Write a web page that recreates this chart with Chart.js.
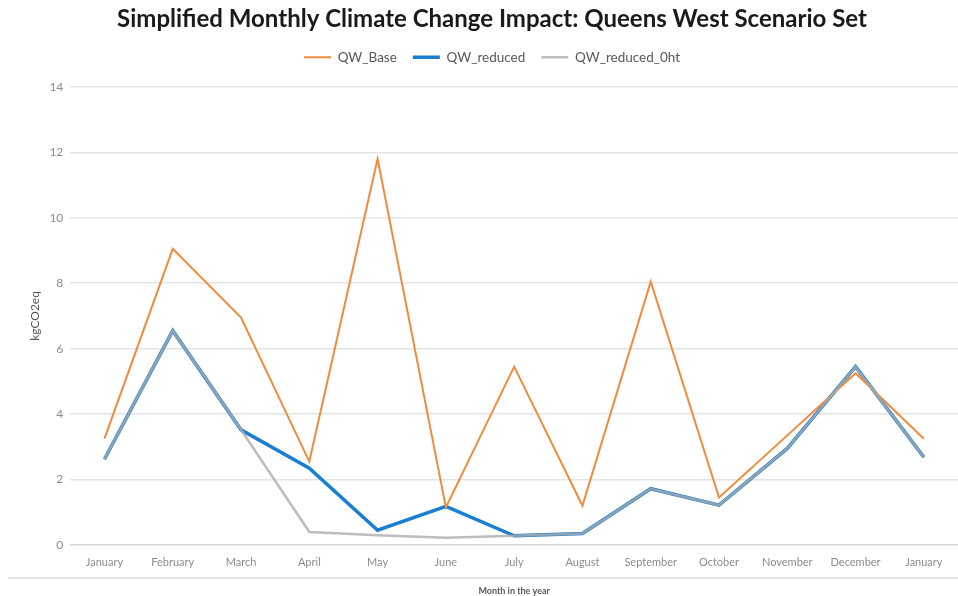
<!DOCTYPE html>
<html>
<head>
<meta charset="utf-8">
<script src="https://cdn.jsdelivr.net/npm/chart.js@4"></script>
<style>
  html, body { margin: 0; padding: 0; background: #fff; }
  #wrap { width: 958px; height: 596px; }
</style>
</head>
<body>
<div id="wrap"><canvas id="chart" width="958" height="596"></canvas></div>
<script>
const months = ["January", "February", "March", "April", "May", "June", "July",
  "August", "September", "October", "November", "December", "January"];

const qwBase = [3.25, 9.05, 6.95, 2.55, 11.8, 1.15, 5.45, 1.2, 8.05, 1.45, 3.35, 5.25, 3.25];
const qwReduced = [2.62, 6.55, 3.52, 2.35, 0.45, 1.18, 0.28, 0.35, 1.72, 1.22, 2.95, 5.45, 2.68];
const qwReduced0ht = [2.62, 6.55, 3.52, 0.4, 0.3, 0.22, 0.28, 0.35, 1.72, 1.22, 2.95, 5.45, 2.68];

const yMin = 0, yMax = 14, yStep = 2;

const FONT = "Lato, 'Open Sans', sans-serif";

// thin rule below the month labels
const bottomRule = {
  id: "bottomRule",
  afterDraw(chart) {
    const ctx = chart.ctx;
    const y = chart.chartArea.bottom + 33;
    ctx.save();
    ctx.strokeStyle = "#d9d9d9";
    ctx.lineWidth = 1.5;
    ctx.beginPath();
    ctx.moveTo(8, y);
    ctx.lineTo(chart.width, y);
    ctx.stroke();
    ctx.restore();
  }
};

// extra room between legend and plot
const legendGap = {
  id: "legendGap",
  beforeInit(chart) {
    const fit = chart.legend.fit;
    chart.legend.fit = function () {
      fit.bind(chart.legend)();
      this.height += 13;
    };
  }
};

new Chart(document.getElementById("chart").getContext("2d"), {
  type: "line",
  data: {
    labels: months,
    datasets: [
      {
        label: "QW_Base",
        data: qwBase,
        borderColor: "#f08a3c",
        backgroundColor: "#f08a3c",
        borderWidth: 2,
        order: 1
      },
      {
        label: "QW_reduced",
        data: qwReduced,
        borderColor: "#1a7fd0",
        backgroundColor: "#1a7fd0",
        borderWidth: 3.5,
        order: 2
      },
      {
        label: "QW_reduced_0ht",
        data: qwReduced0ht,
        borderColor: "rgba(172,172,172,0.8)",
        backgroundColor: "rgba(172,172,172,0.8)",
        borderWidth: 2.5,
        order: 0
      }
    ]
  },
  options: {
    responsive: false,
    animation: false,
    layout: { padding: { left: 26, right: 0, top: 4, bottom: 0 } },
    elements: {
      point: { radius: 0, hoverRadius: 0 },
      line: { tension: 0 }
    },
    plugins: {
      title: {
        display: true,
        text: "Simplified Monthly Climate Change Impact: Queens West Scenario Set",
        color: "#1a1a1a",
        font: { family: FONT, size: 24, weight: "bold", lineHeight: 1.1 },
        padding: { top: 2, bottom: 2 }
      },
      legend: {
        display: true,
        position: "top",
        labels: {
          sort: (a, b) => a.datasetIndex - b.datasetIndex,
          usePointStyle: true,
          pointStyle: "line",
          pointStyleWidth: 27,
          color: "#595959",
          padding: 16,
          font: { family: FONT, size: 13.5 }
        }
      },
      tooltip: { enabled: false }
    },
    scales: {
      x: {
        offset: true,
        grid: { display: false },
        border: { display: true, color: "#d9d9d9", width: 1.5 },
        ticks: {
          color: "#8c8c8c",
          padding: 3,
          maxRotation: 0,
          autoSkip: false,
          font: { family: FONT, size: 11 }
        },
        title: {
          display: true,
          text: "Month in the year",
          color: "#595959",
          font: { family: FONT, size: 9, weight: "bold" },
          padding: { top: 13, bottom: 0 }
        }
      },
      y: {
        min: yMin,
        max: yMax,
        grid: { color: "#e3e3e3", lineWidth: 1.5, drawTicks: false },
        border: { display: false },
        ticks: {
          stepSize: yStep,
          color: "#8c8c8c",
          padding: 7,
          font: { family: FONT, size: 12 }
        },
        title: {
          display: true,
          text: "kgCO2eq",
          color: "#595959",
          font: { family: FONT, size: 12 },
          padding: { top: 2, bottom: 0 }
        }
      }
    }
  },
  plugins: [bottomRule, legendGap]
});
</script>
</body>
</html>
